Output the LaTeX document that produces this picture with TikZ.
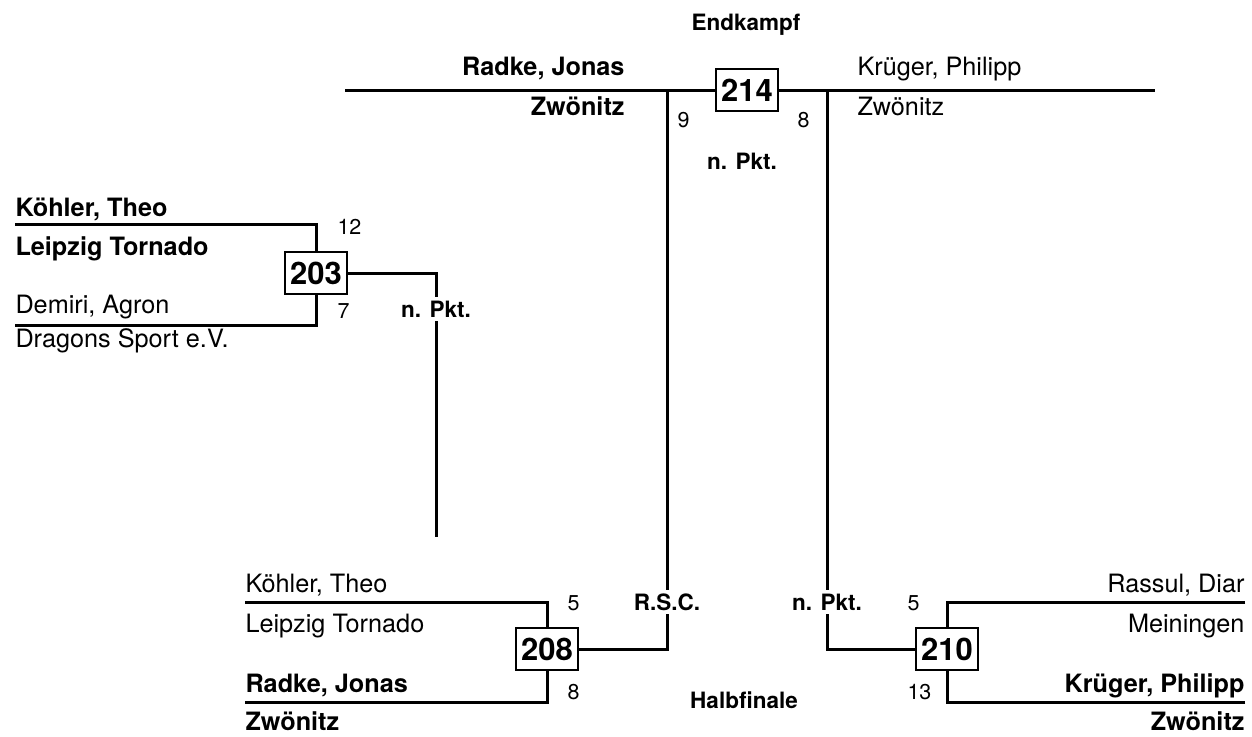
\documentclass[tikz,border=0pt]{standalone}
\usepackage{fontspec}
\setmainfont{TeX Gyre Heros}
\begin{document}
\begin{tikzpicture}[x=0.4pt,y=-0.4pt,
    bout/.style={rectangle,draw,line width=0.6pt,fill=white,inner sep=0pt,minimum width=24.8pt,minimum height=16.8pt,font=\bfseries\fontsize{12.4}{14}\selectfont},
    fighter/.style={inner sep=0pt,font=\fontsize{10.1}{12}\selectfont},
    winner/.style={inner sep=0pt,font=\bfseries\fontsize{10.1}{12}\selectfont},
    points/.style={inner sep=0pt,font=\fontsize{8.6}{10}\selectfont},
    result/.style={fill=white,inner sep=1.5pt,font=\bfseries\fontsize{9}{11}\selectfont},
    stage/.style={inner sep=0pt,font=\bfseries\fontsize{9}{11}\selectfont},
    wire/.style={line width=1.2pt}]
    \useasboundingbox (0,0) rectangle (1252,736);

    % Endkampf
    \node[stage,anchor=base] (final_title) at (746,30) {Endkampf} ;
    \node[bout] (b214) at (747,90) {214} ;
    \node[winner,anchor=base east] (f_red) at (625,75) {Radke, Jonas} ;
    \node[winner,anchor=base east] (f_red_club) at (625,115) {Zwönitz} ;
    \node[fighter,anchor=base west] (f_blue) at (857,75) {Krüger, Philipp} ;
    \node[fighter,anchor=base west] (f_blue_club) at (857,115) {Zwönitz} ;
    \node[points,anchor=base west] (f_red_pts) at (677,127) {9} ;
    \node[points,anchor=base west] (f_blue_pts) at (797,127) {8} ;
    \coordinate (f_left) at (345,90) ;
    \coordinate (f_right) at (1155,90) ;
    \coordinate (f_lj) at (667,90) ;
    \coordinate (f_rj) at (827,90) ;

    % 203
    \node[bout] (b203) at (316,273) {203} ;
    \node[winner,anchor=base west] (k203_red) at (15,216) {Köhler, Theo} ;
    \node[winner,anchor=base west] (k203_red_club) at (15,255) {Leipzig Tornado} ;
    \node[fighter,anchor=base west] (k203_blue) at (15,313) {Demiri, Agron} ;
    \node[fighter,anchor=base west] (k203_blue_club) at (15,347) {Dragons Sport e.V.} ;
    \node[points,anchor=base west] (k203_red_pts) at (337,234) {12} ;
    \node[points,anchor=base west] (k203_blue_pts) at (337,318) {7} ;
    \coordinate (t203) at (15,224) ;
    \coordinate (u203) at (15,325) ;
    \coordinate (d203) at (436,537) ;

    % 208
    \node[bout] (b208) at (547,649) {208} ;
    \node[fighter,anchor=base west] (k208_red) at (245,592) {Köhler, Theo} ;
    \node[fighter,anchor=base west] (k208_red_club) at (245,632) {Leipzig Tornado} ;
    \node[winner,anchor=base west] (k208_blue) at (245,692) {Radke, Jonas} ;
    \node[winner,anchor=base west] (k208_blue_club) at (245,730) {Zwönitz} ;
    \node[points,anchor=base west] (k208_red_pts) at (567,610) {5} ;
    \node[points,anchor=base west] (k208_blue_pts) at (567,699) {8} ;
    \coordinate (t208) at (245,602) ;
    \coordinate (u208) at (245,702) ;

    % 210
    \node[bout] (b210) at (947,649) {210} ;
    \node[fighter,anchor=base east] (k210_red) at (1245,592) {Rassul, Diar} ;
    \node[fighter,anchor=base east] (k210_red_club) at (1245,632) {Meiningen} ;
    \node[winner,anchor=base east] (k210_blue) at (1245,692) {Krüger, Philipp} ;
    \node[winner,anchor=base east] (k210_blue_club) at (1245,730) {Zwönitz} ;
    \node[points,anchor=base west] (k210_red_pts) at (907,610) {5} ;
    \node[points,anchor=base west] (k210_blue_pts) at (907,699) {13} ;
    \coordinate (t210) at (1245,602) ;
    \coordinate (u210) at (1245,702) ;

    \node[stage,anchor=base] (semi_title) at (744,708) {Halbfinale} ;

    \draw[wire] (f_left) -- (b214.west) ;
    \draw[wire] (b214.east) -- (f_right) ;
    \draw[wire] (t203) -| (b203.north) ;
    \draw[wire] (u203) -| (b203.south) ;
    \draw[wire] (b203.east) -| (d203) ;
    \draw[wire] (t208) -| (b208.north) ;
    \draw[wire] (u208) -| (b208.south) ;
    \draw[wire] (b208.east) -| (f_lj) ;
    \draw[wire] (t210) -| (b210.north) ;
    \draw[wire] (u210) -| (b210.south) ;
    \draw[wire] (b210.west) -| (f_rj) ;

    \node[result,anchor=base] (r214) at (742,169) {n. Pkt.} ;
    \node[result,anchor=base] (r203) at (436,317) {n. Pkt.} ;
    \node[result,anchor=base] (r208) at (667,610) {R.S.C.} ;
    \node[result,anchor=base] (r210) at (827,610) {n. Pkt.} ;
\end{tikzpicture}
\end{document}
